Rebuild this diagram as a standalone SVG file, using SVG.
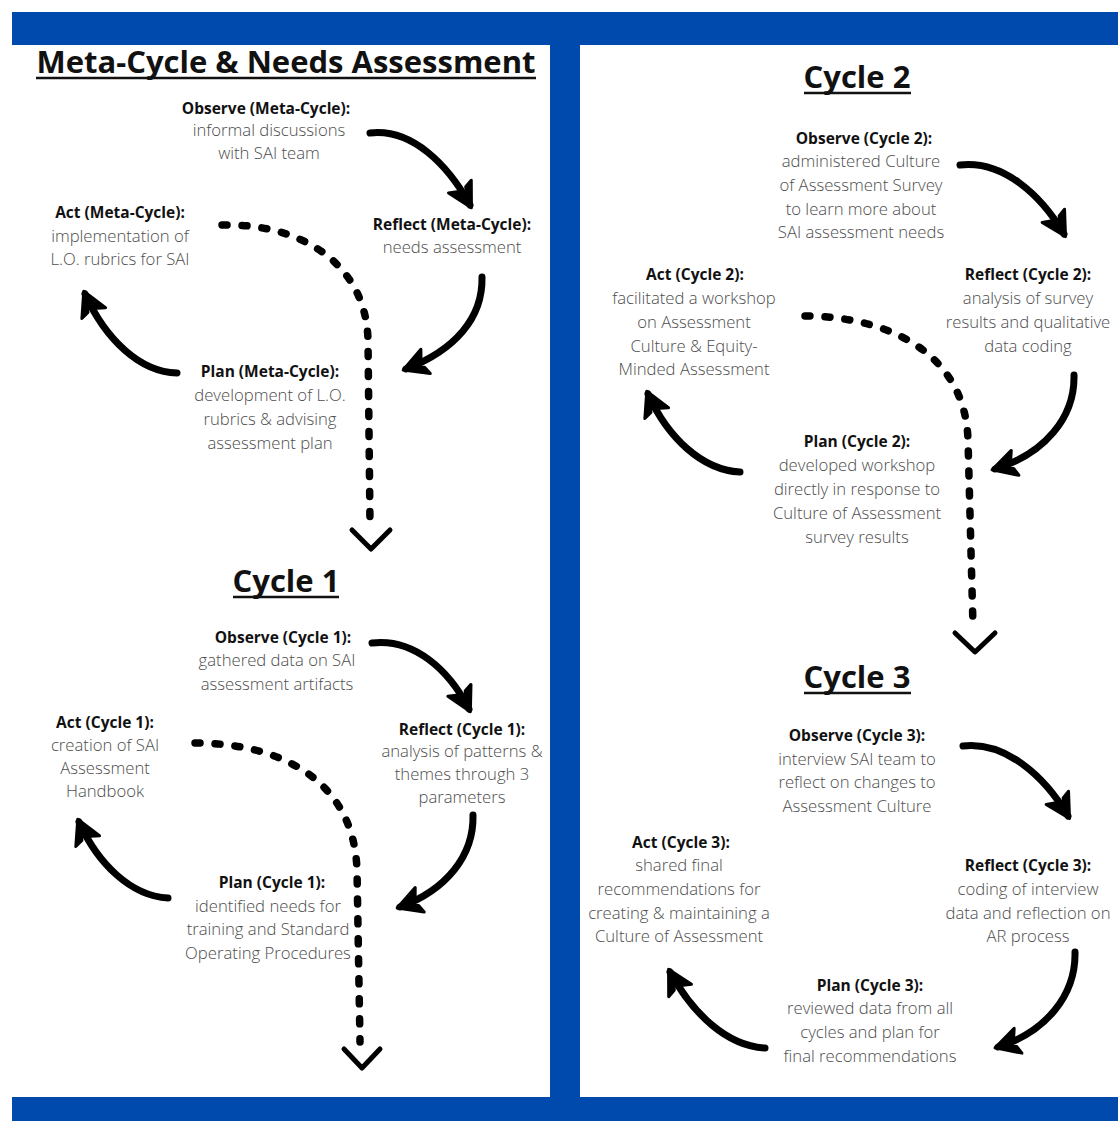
<svg xmlns="http://www.w3.org/2000/svg" width="1118" height="1121" viewBox="0 0 1118 1121">
<style>
.h{font-family:"Open Sans","Liberation Sans",sans-serif;font-weight:700;font-size:15.5px;fill:#111;text-anchor:middle}
.b{font-family:"Open Sans","Liberation Sans",sans-serif;font-weight:300;font-size:16.7px;fill:#4d4d4d;text-anchor:middle}
.t{font-family:"Open Sans","Liberation Sans",sans-serif;font-weight:700;font-size:31px;fill:#111;text-anchor:middle}
.ul{stroke:#111;stroke-width:2.6}
.frame{fill:#004aad}
.arr{fill:none;stroke:#000;stroke-width:7;stroke-linecap:round;marker-end:url(#head)}
.dash{fill:none;stroke:#000;stroke-width:7.5;stroke-linecap:round;stroke-dasharray:5 15}
.chev{fill:none;stroke:#000;stroke-width:5;stroke-linecap:round;stroke-linejoin:round}
</style>
<defs>
<marker id="head" markerUnits="userSpaceOnUse" markerWidth="60" markerHeight="60" viewBox="-30 -30 60 60" refX="0" refY="0" orient="auto" overflow="visible">
<path d="M3,0 L-21,-13 L-18,-5 L-6,0 L-18,5 L-21,13 Z" fill="#000" stroke="#000" stroke-width="3" stroke-linejoin="round"/>
</marker>
</defs>
<rect width="1118" height="1121" fill="#fff"/>
<g id="frame">
<rect class="frame" x="12" y="12" width="1106" height="33"/>
<rect class="frame" x="550" y="45" width="30" height="1052"/>
<rect class="frame" x="12" y="1097" width="1106" height="24"/>
</g>
<g id="titles">
<text class="t" x="286" y="73">Meta-Cycle &amp; Needs Assessment</text>
<line class="ul" x1="36" y1="78" x2="536" y2="78"/>
<text class="t" x="286" y="592">Cycle 1</text>
<line class="ul" x1="233" y1="597" x2="339" y2="597"/>
<text class="t" x="857" y="88">Cycle 2</text>
<line class="ul" x1="804" y1="93" x2="911" y2="93"/>
<text class="t" x="857" y="688">Cycle 3</text>
<line class="ul" x1="804" y1="693" x2="911" y2="693"/>
</g>
<g id="connectors">
<path class="arr" d="M370,133 C412,128 448,165 470,205"/>
<path class="arr" d="M482,277 C483,318 455,350 406,369"/>
<path class="arr" d="M177,373 C140,372 106,340 85,294"/>
<path class="dash" d="M222,225 C300,223 366,263 368,340 L370,524"/>
<path class="chev" d="M352,530 L371,549 L390,530"/>

<path class="arr" d="M372,643 C414,638 449,670 469,709"/>
<path class="arr" d="M473,815 C474,856 446,890 400,907"/>
<path class="arr" d="M168,898 C131,896 98,864 79,822"/>
<path class="dash" d="M195,743 C280,743 354,780 357,870 L360,1042"/>
<path class="chev" d="M344,1049 L362,1068 L380,1049"/>

<path class="arr" d="M960,165 C1003,160 1041,195 1064,234"/>
<path class="arr" d="M1074,375 C1075,418 1044,454 995,469"/>
<path class="arr" d="M740,472 C702,470 668,438 648,394"/>
<path class="dash" d="M805,316 C880,316 965,348 968,440 L973,626"/>
<path class="chev" d="M955,633 L975,652 L995,633"/>

<path class="arr" d="M963,746 C1006,741 1045,777 1068,816"/>
<path class="arr" d="M1075,952 C1076,995 1046,1032 998,1047"/>
<path class="arr" d="M765,1048 C727,1046 693,1014 670,972"/>
</g>
<g id="observe-meta">
<text class="h" x="266" y="114">Observe (Meta-Cycle):</text>
<text class="b" x="269" y="136">informal discussions</text>
<text class="b" x="269" y="159">with SAI team</text>
</g>
<g id="act-meta">
<text class="h" x="120" y="218">Act (Meta-Cycle):</text>
<text class="b" x="120" y="242">implementation of</text>
<text class="b" x="120" y="265">L.O. rubrics for SAI</text>
</g>
<g id="reflect-meta">
<text class="h" x="452" y="230">Reflect (Meta-Cycle):</text>
<text class="b" x="452" y="253">needs assessment</text>
</g>
<g id="plan-meta">
<text class="h" x="270" y="377">Plan (Meta-Cycle):</text>
<text class="b" x="270" y="401">development of L.O.</text>
<text class="b" x="270" y="425">rubrics &amp; advising</text>
<text class="b" x="270" y="449">assessment plan</text>
</g>
<g id="observe-1">
<text class="h" x="283" y="643">Observe (Cycle 1):</text>
<text class="b" x="277" y="666">gathered data on SAI</text>
<text class="b" x="277" y="690">assessment artifacts</text>
</g>
<g id="act-1">
<text class="h" x="105" y="728">Act (Cycle 1):</text>
<text class="b" x="105" y="751">creation of SAI</text>
<text class="b" x="105" y="774">Assessment</text>
<text class="b" x="105" y="797">Handbook</text>
</g>
<g id="reflect-1">
<text class="h" x="462" y="735">Reflect (Cycle 1):</text>
<text class="b" x="462" y="757">analysis of patterns &amp;</text>
<text class="b" x="462" y="780">themes through 3</text>
<text class="b" x="462" y="803">parameters</text>
</g>
<g id="plan-1">
<text class="h" x="272" y="888">Plan (Cycle 1):</text>
<text class="b" x="268" y="912">identified needs for</text>
<text class="b" x="268" y="935">training and Standard</text>
<text class="b" x="268" y="959">Operating Procedures</text>
</g>
<g id="observe-2">
<text class="h" x="864" y="144">Observe (Cycle 2):</text>
<text class="b" x="861" y="167">administered Culture</text>
<text class="b" x="861" y="191">of Assessment Survey</text>
<text class="b" x="861" y="215">to learn more about</text>
<text class="b" x="861" y="238">SAI assessment needs</text>
</g>
<g id="act-2">
<text class="h" x="695" y="280">Act (Cycle 2):</text>
<text class="b" x="694" y="304">facilitated a workshop</text>
<text class="b" x="694" y="328">on Assessment</text>
<text class="b" x="694" y="352">Culture &amp; Equity-</text>
<text class="b" x="694" y="375">Minded Assessment</text>
</g>
<g id="reflect-2">
<text class="h" x="1028" y="280">Reflect (Cycle 2):</text>
<text class="b" x="1028" y="304">analysis of survey</text>
<text class="b" x="1028" y="328">results and qualitative</text>
<text class="b" x="1028" y="352">data coding</text>
</g>
<g id="plan-2">
<text class="h" x="857" y="447">Plan (Cycle 2):</text>
<text class="b" x="857" y="471">developed workshop</text>
<text class="b" x="857" y="495">directly in response to</text>
<text class="b" x="857" y="519">Culture of Assessment</text>
<text class="b" x="857" y="543">survey results</text>
</g>
<g id="observe-3">
<text class="h" x="857" y="741">Observe (Cycle 3):</text>
<text class="b" x="857" y="765">interview SAI team to</text>
<text class="b" x="857" y="788">reflect on changes to</text>
<text class="b" x="857" y="812">Assessment Culture</text>
</g>
<g id="act-3">
<text class="h" x="681" y="848">Act (Cycle 3):</text>
<text class="b" x="679" y="871">shared final</text>
<text class="b" x="679" y="895">recommendations for</text>
<text class="b" x="679" y="919">creating &amp; maintaining a</text>
<text class="b" x="679" y="942">Culture of Assessment</text>
</g>
<g id="reflect-3">
<text class="h" x="1028" y="871">Reflect (Cycle 3):</text>
<text class="b" x="1028" y="895">coding of interview</text>
<text class="b" x="1028" y="919">data and reflection on</text>
<text class="b" x="1028" y="942">AR process</text>
</g>
<g id="plan-3">
<text class="h" x="870" y="991">Plan (Cycle 3):</text>
<text class="b" x="870" y="1014">reviewed data from all</text>
<text class="b" x="870" y="1038">cycles and plan for</text>
<text class="b" x="870" y="1062">final recommendations</text>
</g>
</svg>
